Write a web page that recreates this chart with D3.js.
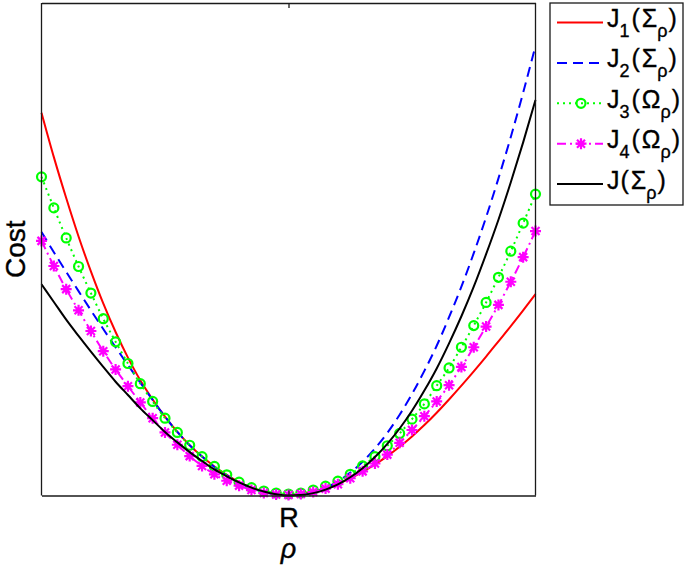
<!DOCTYPE html>
<html>
<head>
<meta charset="utf-8">
<script src="https://d3js.org/d3.v7.min.js"></script>
<style>
  html, body { margin: 0; padding: 0; background: #fff; }
  svg { display: block; font-family: "Liberation Sans", Arial, Helvetica, sans-serif; }
</style>
</head>
<body>
<div id="chart"></div>
<script>
// rho grid (41 samples, R sits in the middle)
const rho = [-1, -0.95, -0.9, -0.85, -0.8, -0.75, -0.7, -0.65, -0.6, -0.55, -0.5,
  -0.45, -0.4, -0.35, -0.3, -0.25, -0.2, -0.15, -0.1, -0.05, 0,
  0.05, 0.1, 0.15, 0.2, 0.25, 0.3, 0.35, 0.4, 0.45, 0.5,
  0.55, 0.6, 0.65, 0.7, 0.75, 0.8, 0.85, 0.9, 0.95, 1];

const J1 = [77.7, 68.7, 60.4, 52.6, 45.5, 39.0, 33.2, 28.0, 23.4, 19.5, 16.0,
  12.9, 10.2, 7.9, 5.9, 4.2, 2.7, 1.6, 0.8, 0.3, 0,
  0.3, 0.8, 1.5, 2.4, 3.5, 4.8, 6.3, 8.0, 9.9, 12.0,
  14.3, 16.8, 19.5, 22.3, 25.2, 28.2, 31.3, 34.4, 37.6, 40.9];

const J2 = [53.5, 49.4, 45.4, 41.5, 37.6, 33.8, 30.1, 26.5, 22.9, 19.4, 16.0,
  12.9, 10.2, 7.9, 5.8, 4.1, 2.6, 1.5, 0.7, 0.2, 0,
  0.15, 0.65, 1.55, 2.87, 4.64, 6.86, 9.56, 12.7, 16.4, 20.6,
  25.3, 30.4, 36.2, 42.4, 49.2, 56.5, 64.4, 72.8, 81.8, 91.3];

const J3 = [64.7, 58.4, 52.3, 46.5, 41.1, 35.9, 31.2, 26.8, 22.7, 19.1, 15.7,
  12.8, 10.2, 7.9, 5.9, 4.2, 2.7, 1.6, 0.9, 0.5, 0.3,
  0.5, 1.1, 1.9, 2.9, 4.3, 6.0, 7.9, 10.1, 12.6, 15.5,
  18.6, 22.3, 25.9, 30.1, 34.5, 39.2, 44.3, 49.6, 55.3, 61.2];

const J4 = [51.7, 46.6, 41.9, 37.6, 33.4, 29.3, 25.6, 22.2, 18.9, 15.7, 12.8,
  10.3, 8.0, 6.0, 4.3, 3.0, 2.0, 1.1, 0.5, 0.2, 0.1,
  0.3, 0.7, 1.4, 2.3, 3.5, 4.9, 6.5, 8.3, 10.7, 13.3,
  16.1, 19.1, 22.4, 26.1, 30.1, 34.3, 38.7, 43.4, 48.4, 53.7];

const J = [42.9, 39.3, 35.7, 32.4, 29.2, 26.1, 23.1, 20.4, 17.7, 15.3, 12.9,
  10.8, 8.8, 7.0, 5.3, 3.9, 2.65, 1.6, 0.8, 0.24, 0,
  0.10, 0.48, 1.19, 2.25, 3.70, 5.54, 7.80, 10.5, 13.6, 17.2,
  21.3, 25.8, 30.9, 36.4, 42.4, 49.0, 56.0, 63.6, 71.7, 80.3];

const xTicks = [0];
const xTickLabels = ['R'];

const W = 685, H = 569;
const plot = { left: 41.5, right: 535.5, top: 3, bottom: 495.5 };

const svg = d3.select('#chart').append('svg')
  .attr('width', W).attr('height', H)
  .attr('viewBox', [0, 0, W, H]);

const x = d3.scaleLinear().domain([-1, 1]).range([plot.left, plot.right]);
const y = d3.scaleLinear().domain([0, 100]).range([plot.bottom, plot.top]);

// series styles
const series = [
  { name: 'J1', values: J1, color: '#ff0000', dash: null, marker: null, lab: ['J', '1', 'Σ'] },
  { name: 'J2', values: J2, color: '#0000ff', dash: '10,6', marker: null, lab: ['J', '2', 'Σ'] },
  { name: 'J3', values: J3, color: '#00ff00', dash: '2,4', marker: 'circle', lab: ['J', '3', 'Ω'] },
  { name: 'J4', values: J4, color: '#ff00ff', dash: '9,4,2,4', marker: 'star', lab: ['J', '4', 'Ω'] },
  { name: 'J', values: J, color: '#000000', dash: null, marker: null, lab: ['J', '', 'Σ'] }
];

const starPath = 'M-5.5,0H5.5M0,-5.5V5.5M-4,-4L4,4M-4,4L4,-4';

const line = d3.line()
  .x((d, i) => x(rho[i]))
  .y(d => y(d))
  .curve(d3.curveMonotoneX);

const g = svg.append('g');

series.forEach(s => {
  g.append('path')
    .datum(s.values)
    .attr('d', line)
    .attr('fill', 'none')
    .attr('stroke', s.color)
    .attr('stroke-width', 2)
    .attr('stroke-dasharray', s.dash);

  if (s.marker === 'circle') {
    g.append('g').selectAll('circle')
      .data(s.values)
      .join('circle')
      .attr('cx', (d, i) => x(rho[i]))
      .attr('cy', d => y(d))
      .attr('r', 4.5)
      .attr('fill', 'none')
      .attr('stroke', s.color)
      .attr('stroke-width', 2.2);
  } else if (s.marker === 'star') {
    g.append('g').selectAll('path')
      .data(s.values)
      .join('path')
      .attr('transform', (d, i) => 'translate(' + x(rho[i]) + ',' + y(d) + ')')
      .attr('d', starPath)
      .attr('fill', 'none')
      .attr('stroke', s.color)
      .attr('stroke-width', 2.2);
  }
});

// axes box
const axisColor = '#1a1a1a';
const bottomAxis = svg.append('g')
  .attr('transform', 'translate(0,' + plot.bottom + ')')
  .call(d3.axisBottom(x).tickValues(xTicks)
    .tickFormat((d, i) => xTickLabels[i])
    .tickSizeInner(-5).tickSizeOuter(0).tickPadding(12));
const topAxis = svg.append('g')
  .attr('transform', 'translate(0,' + plot.top + ')')
  .call(d3.axisTop(x).tickValues(xTicks).tickFormat('')
    .tickSizeInner(-5).tickSizeOuter(0));
[bottomAxis, topAxis].forEach(a => {
  a.selectAll('path, line').attr('stroke', axisColor).attr('stroke-width', 1.3);
});
bottomAxis.selectAll('text')
  .attr('fill', '#000')
  .attr('stroke', '#000').attr('stroke-width', 0.4)
  .style('font-size', '27px')
  .style('font-family', '"Liberation Sans", Arial, sans-serif');

svg.append('line')
  .attr('x1', plot.left).attr('x2', plot.left)
  .attr('y1', plot.top).attr('y2', plot.bottom)
  .attr('stroke', axisColor).attr('stroke-width', 1.3);
svg.append('line')
  .attr('x1', plot.right).attr('x2', plot.right)
  .attr('y1', plot.top).attr('y2', plot.bottom)
  .attr('stroke', axisColor).attr('stroke-width', 1.3);

// axis labels
svg.append('text')
  .attr('transform', 'translate(25,' + ((plot.top + plot.bottom) / 2) + ') rotate(-90)')
  .attr('text-anchor', 'middle')
  .attr('stroke', '#000').attr('stroke-width', 0.4)
  .style('font-size', '28px')
  .text('Cost');

svg.append('text')
  .attr('x', (plot.left + plot.right) / 2)
  .attr('y', 558)
  .attr('text-anchor', 'middle')
  .attr('stroke', '#000').attr('stroke-width', 0.4)
  .style('font-size', '27px')
  .style('font-style', 'italic')
  .text('ρ');

// legend
const legend = svg.append('g');
legend.append('rect')
  .attr('x', 550).attr('y', 3)
  .attr('width', 133).attr('height', 202)
  .attr('fill', '#fff')
  .attr('stroke', axisColor).attr('stroke-width', 1.3);

series.forEach((s, k) => {
  const base = 27 + 40.4 * k;
  const ly = base - 4.5;
  const row = legend.append('g');
  row.append('line')
    .attr('x1', 557).attr('x2', 603)
    .attr('y1', ly).attr('y2', ly)
    .attr('stroke', s.color).attr('stroke-width', 2)
    .attr('stroke-dasharray', s.dash);
  if (s.marker === 'circle') {
    row.append('circle').attr('cx', 581).attr('cy', ly).attr('r', 4.5)
      .attr('fill', 'none').attr('stroke', s.color).attr('stroke-width', 2.2);
  } else if (s.marker === 'star') {
    row.append('path').attr('transform', 'translate(581,' + ly + ')')
      .attr('d', starPath).attr('fill', 'none')
      .attr('stroke', s.color).attr('stroke-width', 2.2);
  }
  const t = row.append('text')
    .attr('x', 607).attr('y', base)
    .attr('stroke', '#000').attr('stroke-width', 0.35)
    .style('font-size', '25px');
  t.append('tspan').text(s.lab[0]);
  if (s.lab[1]) {
    t.append('tspan').attr('dy', 10).style('font-size', '18px').text(s.lab[1]);
    t.append('tspan').attr('dy', -10).attr('dx', 2).text('(');
  } else {
    t.append('tspan').attr('dx', 1).text('(');
  }
  t.append('tspan').attr('dx', 2).text(s.lab[2]);
  t.append('tspan').attr('dy', 10).style('font-size', '18px').text('ρ');
  t.append('tspan').attr('dy', -10).attr('dx', 1).text(')');
});
</script>
</body>
</html>
